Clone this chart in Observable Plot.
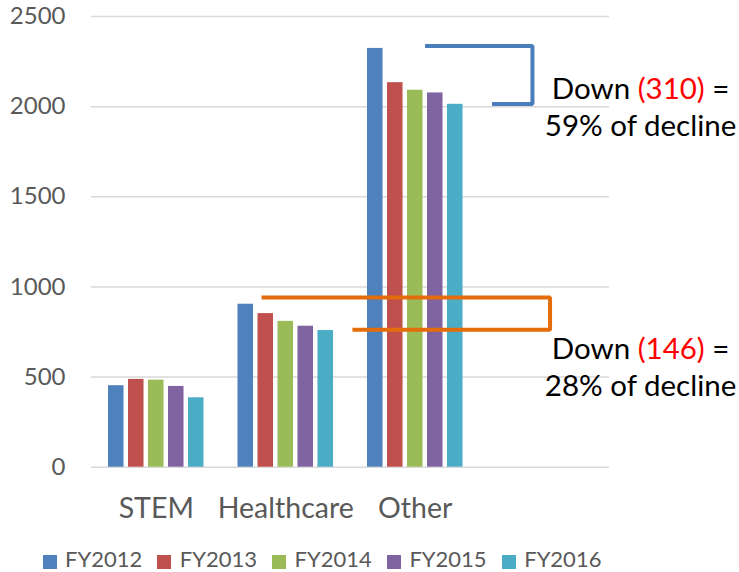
<!DOCTYPE html>
<html>
<head>
<meta charset="utf-8">
<script src="https://cdn.jsdelivr.net/npm/d3@7"></script>
<script src="https://cdn.jsdelivr.net/npm/@observablehq/plot@0.6"></script>
<style>
  html, body { margin: 0; padding: 0; background: #fff; }
  body { width: 739px; height: 572px; overflow: hidden; font-family: Lato, "Liberation Sans", sans-serif; }
  #legend { position: relative; height: 40px; font-size: 22px; color: #595959; }
  #legend .item { position: absolute; top: 18px; height: 18px; display: flex; align-items: center; white-space: nowrap; }
  #legend .sw { width: 14px; height: 14px; margin-right: 8.5px; flex: none; margin-top: 6px; }
  #legend .lb { display: block; height: 18px; line-height: 18px; overflow: visible; }
</style>
</head>
<body>
<div id="chart"></div>
<div id="legend"></div>
<script>
// ---- data ----
const categories = ["STEM", "Healthcare", "Other"];
const years = ["FY2012", "FY2013", "FY2014", "FY2015", "FY2016"];
const stem = [452, 487, 483, 448, 385];
const healthcare = [904, 852, 809, 782, 758];
const other = [2323, 2133, 2091, 2076, 2013];
const yTicks = [0, 500, 1000, 1500, 2000, 2500];
const colors = ["#4F81BD", "#C0504D", "#9BBB59", "#8064A2", "#4BACC6"];

const annoTop = ["Down (310) =", "59% of decline"];
const annoBottom = ["Down (146) =", "28% of decline"];

// ---- table ----
const seriesByCat = [stem, healthcare, other];
const rows = [];
categories.forEach((c, ci) => years.forEach((yr, yi) => rows.push({cat: c, ci, year: yr, yi, value: seriesByCat[ci][yi]})));

// layout in category units (one band = 1 unit; 4 bands incl. an empty one)
const slot = 0.1544, barW = 0.12;
const cx = d => d.ci + 0.5 + (d.yi - 2) * slot;

// bracket paths (category units, values)
const blueBracket = [
  {x: 2.576, y: 2336}, {x: 3.405, y: 2336}, {x: 3.405, y: 2015}, {x: 3.093, y: 2015}
];
const orangeBracket = [
  {x: 1.313, y: 941}, {x: 3.541, y: 941}, {x: 3.541, y: 763}, {x: 2.015, y: 763}
];
const labelX = 4.24;
const labels = [
  {t: annoTop[0], y: 2094}, {t: annoTop[1], y: 1889},
  {t: annoBottom[0], y: 655}, {t: annoBottom[1], y: 446}
];

const plot = Plot.plot({
  width: 739,
  height: 532,
  marginTop: 16,
  marginBottom: 65.3,
  marginLeft: 91,
  marginRight: 130,
  style: {fontFamily: "Lato, 'Liberation Sans', sans-serif", background: "#fff", overflow: "visible"},
  x: {domain: [0, 4], axis: null},
  y: {domain: [0, 2500], axis: null},
  color: {domain: years, range: colors},
  marks: [
    Plot.gridY(yTicks, {stroke: "#D9D9D9", strokeOpacity: 1, strokeWidth: 1.5}),
    Plot.rectY(rows, {
      x1: d => cx(d) - barW / 2,
      x2: d => cx(d) + barW / 2,
      y1: 0,
      y2: "value",
      fill: "year"
    }),
    Plot.line(orangeBracket, {x: "x", y: "y", stroke: "#E46C0A", strokeWidth: 4, strokeLinejoin: "miter", strokeLinecap: "butt"}),
    Plot.line(blueBracket, {x: "x", y: "y", stroke: "#4A7EBB", strokeWidth: 4, strokeLinejoin: "miter", strokeLinecap: "butt"}),
    Plot.text(labels, {x: () => labelX, y: "y", text: "t", fontSize: 29.5, fill: "#000", textAnchor: "middle", lineAnchor: "middle"}),
    Plot.axisY(yTicks, {tickSize: 0, tickPadding: 26, fontSize: 24, fill: "#595959", label: null, tickFormat: d => String(d)}),
    Plot.axisX(categories.map((c, i) => i + 0.5), {
      tickSize: 0, tickPadding: 31, fontSize: 28.5, fill: "#595959", label: null,
      tickFormat: v => categories[Math.round(v - 0.5)]
    })
  ]
});

document.getElementById("chart").appendChild(plot);

// colour the numbers in the annotations red
d3.select(plot).selectAll("text").each(function () {
  const s = this.textContent;
  const m = s.match(/^(Down )(\(\d+\))( =)$/);
  if (m && this.children.length === 0) {
    const el = d3.select(this);
    el.text(null);
    el.append("tspan").text(m[1]);
    el.append("tspan").attr("fill", "#FF0000").text(m[2]);
    el.append("tspan").text(m[3]);
  }
});

// legend
const legend = document.getElementById("legend");
years.forEach((yr, i) => {
  const item = document.createElement("div");
  item.className = "item";
  item.style.left = (42.5 + i * 114.8) + "px";
  const sw = document.createElement("span");
  sw.className = "sw";
  sw.style.background = colors[i];
  const lb = document.createElement("span");
  lb.className = "lb";
  lb.textContent = yr;
  item.appendChild(sw);
  item.appendChild(lb);
  legend.appendChild(item);
});
</script>
</body>
</html>
